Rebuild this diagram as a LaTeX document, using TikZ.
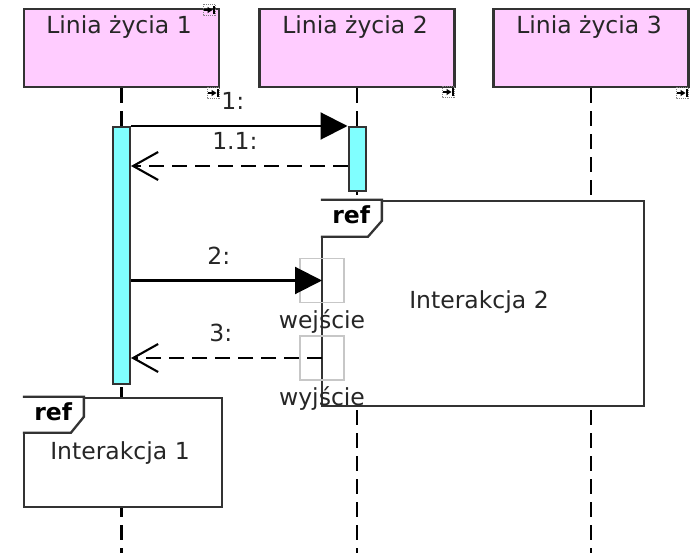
\documentclass[tikz,border=0pt]{standalone}
\usepackage{fontspec}
\setmainfont{DejaVu Sans}
\usetikzlibrary{arrows.meta,calc,positioning}

\definecolor{headpink}{HTML}{FFCCFF}
\definecolor{actcyan}{HTML}{80FFFF}
\definecolor{edgegray}{HTML}{333333}

\tikzset{
  head/.style={draw=edgegray, line width=2.4pt, fill=headpink, minimum width=195pt, minimum height=78pt, inner sep=0pt},
  headtext/.style={anchor=base, text=black!85},
  lifeline/.style={line width=2.6pt, dash pattern=on 15pt off 8pt},
  activation/.style={draw=edgegray, line width=2pt, fill=actcyan, minimum width=17pt, inner sep=0pt},
  frame/.style={draw=edgegray, line width=2.3pt, fill=white, inner sep=0pt, text=black!85},
  reftag/.style={font=\fontsize{23.5}{28}\selectfont\bfseries, anchor=base west},
  gate/.style={draw=black!22, line width=1.8pt, minimum size=44pt, inner sep=0pt},
  gatetext/.style={text=black!85, inner sep=2pt},
  call/.style={line width=2.1pt, -{Triangle[length=27pt,width=27pt]}},
  reply/.style={line width=2.1pt, dash pattern=on 15pt off 8pt, -{Straight Barb[length=25pt,width=28pt]}},
  msglabel/.style={above=12pt, text=black!85},
  handle/.pic={
    \draw[densely dotted, black!50, line width=1pt] (-6,-5.5) rectangle (6,5.5);
    \draw[line width=2pt, -{Triangle[length=5pt,width=6pt]}] (-5,0) -- (3.5,0);
    \draw[line width=2pt] (5,-4) -- (5,4);
  }
}

\begin{document}
\begin{tikzpicture}[x=1pt, y=-1pt, font=\fontsize{23.5}{28}\selectfont]
  \useasboundingbox (0,0) rectangle (694,553);
  \coordinate (bottom) at (0,553);

  % lifeline heads
  \node[head] (h1) at (121.5,48) {};
  \node[head] (h2) at (357,48) {};
  \node[head] (h3) at (591,48) {};
  \node[headtext] (t1) at (119,34) {Linia życia 1};
  \node[headtext] (t2) at (355,34) {Linia życia 2};
  \node[headtext] (t3) at (589,34) {Linia życia 3};

  \foreach \n in {1,2,3}
    \draw[lifeline] (h\n.south) -- (h\n.south |- bottom);

  % interaction uses
  \node[frame, minimum width=322pt, minimum height=205pt] (ref2) at (483,303.5) {};
  \node[text=black!85] (ref2text) at (479,302) {Interakcja 2};
  \draw[frame] (ref2.north west) -- ++(61,0) -- ++(0,21) -- ++(-14,16) -- ++(-47,0);
  \node[reftag] (ref2tag) at ($(ref2.north west)+(8,24)$) {ref};

  \node[frame, minimum width=198pt, minimum height=109pt] (ref1) at (123,452.5) {};
  \node[text=black!85] (ref1text) at (120,453) {Interakcja 1};
  \draw[frame] (ref1.north west) -- ++(61,0) -- ++(0,20) -- ++(-13,16) -- ++(-48,0);
  \node[reftag] (ref1tag) at ($(ref1.north west)+(8,24)$) {ref};

  % gates
  \node[gate] (in2) at (322,280.5) {};
  \node[gate] (out2) at (322,358) {};
  \node[gatetext, below=4pt of in2] (in2text) {wejście};
  \node[gatetext, below=4pt of out2] (out2text) {wyjście};

  % activations
  \node[activation, minimum height=257pt] (a1) at (121.5,255.5) {};
  \node[activation, minimum height=64pt] (a2) at (357,159) {};

  % messages
  \coordinate (m11) at (357,166);
  \draw[call] (a1.north east) -- node[msglabel, pos=0.47] (m1) {1:} (a2.north west);
  \draw[reply] (a2.west |- m11) -- node[msglabel, pos=0.52] (m1r) {1.1:} (a1.east |- m11);
  \draw[call] (a1.east |- in2) -- node[msglabel, pos=0.46] (m2) {2:} (in2.center);
  \draw[reply] (out2.center) -- node[msglabel, pos=0.53] (m3) {3:} (a1.east |- out2);

  % editor handles
  \pic at (209,10) {handle};
  \pic at (213,93) {handle};
  \pic at (448,92) {handle};
  \pic at (682,93) {handle};
\end{tikzpicture}
\end{document}
